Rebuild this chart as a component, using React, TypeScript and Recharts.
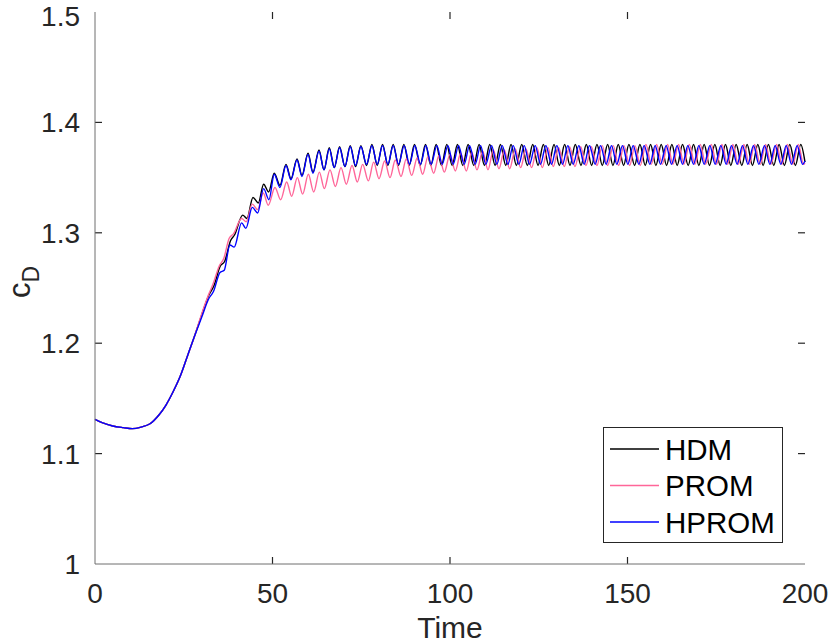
import { Legend, Line, LineChart, ReferenceLine, XAxis, YAxis } from 'recharts'

type Pt = [number, number]

// t = 0..28: the three models sit on top of each other
const startCurve: Pt[] = [
  [0, 1.131], [2, 1.128], [5, 1.125], [8, 1.1235], [10.5, 1.1226], [13, 1.124],
  [15.5, 1.127], [18, 1.135], [20, 1.144], [22, 1.156], [24, 1.17], [26, 1.188], [28, 1.206],
]

const hdmCurve: Pt[] = [
  [30, 1.225], [32, 1.243], [33.5, 1.252], [35.3, 1.27], [36.5, 1.274], [38.2, 1.293],
  [39.3, 1.298], [41.6, 1.316], [42.8, 1.313], [44.5, 1.332], [46, 1.327], [47.5, 1.344],
  [48.9, 1.337], [50.5, 1.354], [52.1, 1.343], [53.8, 1.362], [55.2, 1.349], [56.9, 1.367],
  [58.3, 1.352], [60, 1.372], [61.4, 1.355], [63.1, 1.375], [64.5, 1.357], [66, 1.377],
  [67.4, 1.359], [68.9, 1.378], [70.4, 1.36], [71.9, 1.379], [73.4, 1.36], [74.9, 1.379],
  [76.5, 1.361], [78, 1.38], [79.5, 1.361], [81, 1.38], [82.5, 1.361], [84, 1.38],
  [85.5, 1.361], [87, 1.38], [88.5, 1.361], [90, 1.38], [91.6, 1.361], [93.1, 1.38],
  [94.6, 1.361], [96.1, 1.38], [97.6, 1.361], [99.1, 1.38], [100.6, 1.361], [102.1, 1.38],
  [103.6, 1.361], [105.1, 1.38], [106.7, 1.361], [108.2, 1.38], [109.7, 1.361], [111.2, 1.38],
  [112.7, 1.361], [114.2, 1.38], [115.7, 1.361], [117.2, 1.38], [118.7, 1.361], [120.2, 1.38],
  [121.8, 1.361], [123.3, 1.38], [124.8, 1.361], [126.3, 1.38], [127.8, 1.361], [129.3, 1.38],
  [130.8, 1.361], [132.3, 1.38], [133.8, 1.361], [135.3, 1.38], [136.9, 1.361], [138.4, 1.38],
  [139.9, 1.361], [141.4, 1.38], [142.9, 1.361], [144.4, 1.38], [145.9, 1.361], [147.4, 1.38],
  [148.9, 1.361], [150.4, 1.38], [152, 1.361], [153.5, 1.38], [155, 1.361], [156.5, 1.38],
  [158, 1.361], [159.5, 1.38], [161, 1.361], [162.5, 1.38], [164, 1.361], [165.5, 1.38],
  [167.1, 1.361], [168.6, 1.38], [170.1, 1.361], [171.6, 1.38], [173.1, 1.361], [174.6, 1.38],
  [176.1, 1.361], [177.6, 1.38], [179.1, 1.361], [180.6, 1.38], [182.2, 1.361], [183.7, 1.38],
  [185.2, 1.361], [186.7, 1.38], [188.2, 1.361], [189.7, 1.38], [191.2, 1.361], [192.7, 1.38],
  [194.2, 1.361], [195.7, 1.38], [197.3, 1.361], [198.8, 1.38], [200, 1.364],
]

const promCurve: Pt[] = [
  [30, 1.226], [32, 1.244], [33.3, 1.254], [35, 1.27], [36.3, 1.277], [37.8, 1.295],
  [39, 1.299], [41.3, 1.313], [42.6, 1.31], [44.3, 1.326], [45.8, 1.321], [47.4, 1.336],
  [48.8, 1.325], [50.7, 1.341], [52.3, 1.33], [54, 1.346], [55.4, 1.333], [57, 1.35],
  [58.5, 1.335], [60.1, 1.353], [61.6, 1.337], [63.2, 1.355], [64.6, 1.34], [66.2, 1.357],
  [67.7, 1.342], [69.3, 1.359], [70.8, 1.344], [72.4, 1.361], [73.9, 1.346], [75.4, 1.362],
  [77, 1.347], [78.5, 1.364], [80, 1.349], [81.6, 1.365], [83.1, 1.35], [84.6, 1.366],
  [86.2, 1.351], [87.7, 1.367], [89.2, 1.352], [90.8, 1.368], [92.3, 1.353], [93.8, 1.369],
  [95.4, 1.354], [96.9, 1.37], [98.4, 1.355], [100, 1.371], [101.5, 1.356], [103, 1.372],
  [104.6, 1.356], [106.1, 1.373], [107.6, 1.357], [109.2, 1.374], [110.7, 1.357], [112.2, 1.375],
  [113.8, 1.358], [115.3, 1.375], [116.8, 1.358], [118.4, 1.376], [119.9, 1.359], [121.4, 1.376],
  [123, 1.359], [124.5, 1.377], [126, 1.359], [127.6, 1.377], [129.1, 1.36], [130.6, 1.377],
  [132.2, 1.36], [133.7, 1.378], [135.2, 1.36], [136.8, 1.378], [138.3, 1.361], [139.8, 1.378],
  [141.4, 1.361], [142.9, 1.379], [144.4, 1.361], [146, 1.379], [147.5, 1.361], [149, 1.379],
  [150.6, 1.361], [152.1, 1.379], [153.6, 1.361], [155.2, 1.38], [156.7, 1.362], [158.2, 1.38],
  [159.8, 1.362], [161.3, 1.38], [162.8, 1.362], [164.4, 1.38], [165.9, 1.362], [167.4, 1.38],
  [169, 1.362], [170.5, 1.38], [172, 1.362], [173.6, 1.38], [175.1, 1.362], [176.6, 1.38],
  [178.2, 1.362], [179.7, 1.38], [181.2, 1.362], [182.8, 1.38], [184.3, 1.362], [185.8, 1.38],
  [187.4, 1.362], [188.9, 1.38], [190.4, 1.362], [192, 1.38], [193.5, 1.362], [195, 1.38],
  [196.6, 1.362], [198.1, 1.38], [199.6, 1.362], [200, 1.363],
]

const hpromCurve: Pt[] = [
  [30, 1.223], [32, 1.24], [33.4, 1.247], [35.2, 1.264], [36.4, 1.266], [38, 1.289],
  [39.2, 1.287], [41.3, 1.309], [42.5, 1.304], [44.3, 1.323], [45.8, 1.318], [47.5, 1.34],
  [49, 1.33], [50.5, 1.353], [52.1, 1.341], [53.8, 1.361], [55.2, 1.348], [56.9, 1.366],
  [58.3, 1.351], [60, 1.371], [61.4, 1.354], [63.1, 1.374], [64.5, 1.357], [66, 1.376],
  [67.4, 1.359], [68.9, 1.377], [70.4, 1.36], [71.9, 1.378], [73.4, 1.361], [74.9, 1.378],
  [76.5, 1.362], [78, 1.379], [79.5, 1.362], [81, 1.379], [82.5, 1.362], [84, 1.379],
  [85.5, 1.362], [87.1, 1.379], [88.6, 1.362], [90.1, 1.379], [91.7, 1.362], [93.2, 1.379],
  [94.7, 1.362], [96.3, 1.379], [97.8, 1.362], [99.4, 1.379], [100.9, 1.362], [102.4, 1.379],
  [104, 1.362], [105.5, 1.379], [107.1, 1.362], [108.6, 1.379], [110.1, 1.362], [111.7, 1.379],
  [113.2, 1.362], [114.7, 1.379], [116.3, 1.362], [117.8, 1.379], [119.4, 1.362], [120.9, 1.379],
  [122.4, 1.362], [124, 1.379], [125.5, 1.362], [127, 1.379], [128.6, 1.362], [130.1, 1.379],
  [131.7, 1.362], [133.2, 1.379], [134.7, 1.362], [136.3, 1.379], [137.8, 1.362], [139.3, 1.379],
  [140.9, 1.362], [142.4, 1.379], [144, 1.362], [145.5, 1.379], [147, 1.362], [148.6, 1.379],
  [150.1, 1.362], [151.6, 1.379], [153.2, 1.362], [154.7, 1.379], [156.3, 1.362], [157.8, 1.379],
  [159.3, 1.362], [160.9, 1.379], [162.4, 1.362], [164, 1.379], [165.5, 1.362], [167, 1.379],
  [168.6, 1.362], [170.1, 1.379], [171.6, 1.362], [173.2, 1.379], [174.7, 1.362], [176.3, 1.379],
  [177.8, 1.362], [179.3, 1.379], [180.9, 1.362], [182.4, 1.379], [183.9, 1.362], [185.5, 1.379],
  [187, 1.362], [188.6, 1.379], [190.1, 1.362], [191.6, 1.379], [193.2, 1.362], [194.7, 1.379],
  [196.2, 1.362], [197.8, 1.379], [199.3, 1.362], [200, 1.365],
]

const timeTicks = [0, 50, 100, 150, 200]
const cdTicks = [1, 1.1, 1.2, 1.3, 1.4, 1.5]
const T_MIN = 0
const T_MAX = 200
const CD_MIN = 1
const CD_MAX = 1.5

const FONT = '"Liberation Sans", Arial, Helvetica, sans-serif'
const TEXT = '#262626'
const FRAME = '#6e6e6e'
const LINE_W = 1.4

// plot box is 710 x 552 px; inward tick marks are 7 px long
const TICK_DX = (7 * (T_MAX - T_MIN)) / 710
const TICK_DY = (7 * (CD_MAX - CD_MIN)) / 552

const toRows = (pts: Pt[]) => [...startCurve, ...pts].map(([t, cd]) => ({ t, cd }))

const series = [
  { name: 'HDM', color: '#000000', rows: toRows(hdmCurve) },
  { name: 'PROM', color: '#ff6699', rows: toRows(promCurve) },
  { name: 'HPROM', color: '#0000ff', rows: toRows(hpromCurve) },
]

// MATLAB-style box: tick marks on all four sides, pointing inwards
const innerTicks = [
  ...timeTicks.slice(1, -1).flatMap((t) => [
    [{ x: t, y: CD_MIN }, { x: t, y: CD_MIN + TICK_DY }],
    [{ x: t, y: CD_MAX }, { x: t, y: CD_MAX - TICK_DY }],
  ]),
  ...cdTicks.slice(1, -1).flatMap((c) => [
    [{ x: T_MIN, y: c }, { x: T_MIN + TICK_DX, y: c }],
    [{ x: T_MAX, y: c }, { x: T_MAX - TICK_DX, y: c }],
  ]),
]

function YLabel() {
  // rotated "c_D", subscript drops towards the axis
  return (
    <text
      x={30}
      y={282}
      transform="rotate(-90 30 282)"
      textAnchor="middle"
      fill={TEXT}
      fontFamily={FONT}
    >
      <tspan fontSize={31}>c</tspan>
      <tspan fontSize={23} dy={9}>
        D
      </tspan>
    </text>
  )
}

function LegendBox() {
  const rowY = [22, 58.5, 95]
  return (
    <svg width={181} height={117} style={{ display: 'block' }}>
      <rect x={0.5} y={0.5} width={179} height={115} fill="#fff" stroke={TEXT} strokeWidth={1} />
      {series.map((s, i) => (
        <g key={s.name}>
          <line x1={7} x2={56} y1={rowY[i]} y2={rowY[i]} stroke={s.color} strokeWidth={LINE_W} />
          <text x={62} y={rowY[i] + 10.5} fontSize={29.5} fontFamily={FONT} fill="#000">
            {s.name}
          </text>
        </g>
      ))}
    </svg>
  )
}

export default function App() {
  return (
    <div style={{ position: 'absolute', left: 0, top: 0 }}>
      <LineChart
        width={830}
        height={643}
        margin={{ top: 12, right: 25, bottom: 0, left: 0 }}
        style={{ background: '#fff' }}
      >
        <XAxis
          xAxisId="b"
          dataKey="t"
          type="number"
          domain={[T_MIN, T_MAX]}
          ticks={timeTicks}
          allowDuplicatedCategory={false}
          height={79}
          stroke={FRAME}
          tickLine={false}
          tickSize={-7}
          tickMargin={26}
          tick={{ fill: TEXT, fontSize: 28, fontFamily: FONT }}
          label={{ value: 'Time', position: 'insideBottom', offset: 5, fill: TEXT, fontSize: 30, fontFamily: FONT }}
        />
        <XAxis
          xAxisId="t"
          orientation="top"
          type="number"
          domain={[T_MIN, T_MAX]}
          ticks={timeTicks}
          height={0}
          stroke={FRAME}
          tickLine={false}
          tick={false}
        />
        <YAxis
          yAxisId="l"
          type="number"
          domain={[CD_MIN, CD_MAX]}
          ticks={cdTicks}
          width={95}
          stroke={FRAME}
          tickLine={false}
          tickSize={-7}
          tickMargin={22}
          tickFormatter={(v: number) => (v === 1 ? '1' : v.toFixed(1))}
          tick={{ fill: TEXT, fontSize: 28, fontFamily: FONT }}
          label={<YLabel />}
        />
        <YAxis
          yAxisId="r"
          orientation="right"
          type="number"
          domain={[CD_MIN, CD_MAX]}
          ticks={cdTicks}
          width={0}
          stroke={FRAME}
          tickLine={false}
          tick={false}
        />
        {innerTicks.map((seg, i) => (
          <ReferenceLine
            key={i}
            xAxisId="b"
            yAxisId="l"
            segment={seg}
            stroke="#262626"
            strokeWidth={1.2}
            ifOverflow="visible"
          />
        ))}
        <Legend
          layout="vertical"
          align="center"
          verticalAlign="middle"
          content={() => <LegendBox />}
          wrapperStyle={{ position: 'absolute', left: 603, top: 427, width: 181, height: 117 }}
        />
        {series.map((s) => (
          <Line
            key={s.name}
            name={s.name}
            data={s.rows}
            dataKey="cd"
            xAxisId="b"
            yAxisId="l"
            type="monotone"
            stroke={s.color}
            strokeWidth={LINE_W}
            dot={false}
            activeDot={false}
            isAnimationActive={false}
          />
        ))}
      </LineChart>
    </div>
  )
}
